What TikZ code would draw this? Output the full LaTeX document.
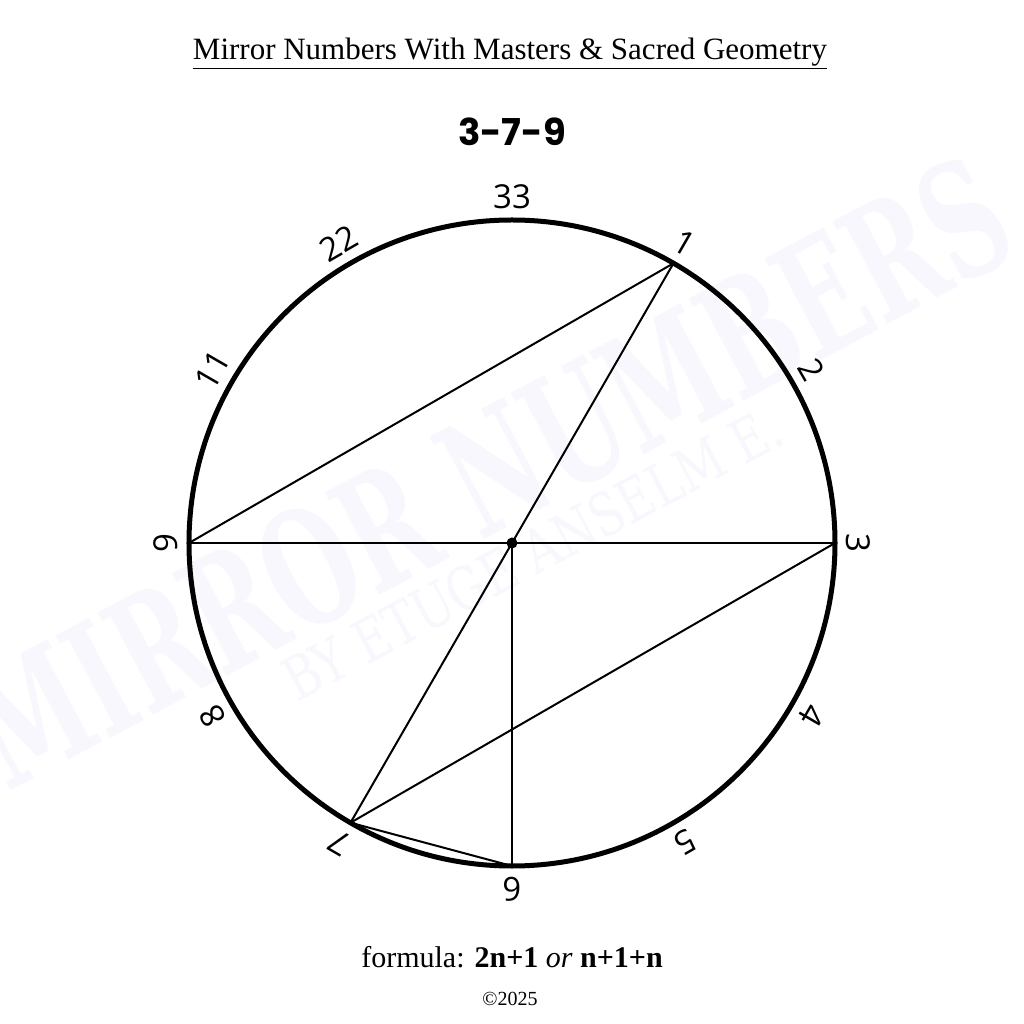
\documentclass[tikz,border=0pt]{standalone}
\usepackage{fontspec}
\usepackage{graphicx}
\setmainfont{Liberation Serif}
\newfontfamily\titlefont{Liberation Serif}
\newfontfamily\headfont{Poppins}
\newfontfamily\labfont{Open Sans}
\newfontfamily\wmfont{DejaVu Serif}
\definecolor{wmcol}{RGB}{247,247,253}
\begin{document}
\begin{tikzpicture}[x=1pt,y=1pt,
  rim/.style={line width=5pt},
  chord/.style={line width=2pt},
  lab/.style={font=\labfont\fontsize{33}{33}\selectfont, inner sep=0pt},
  wmtext/.style={text=wmcol, inner sep=0pt, anchor=base west, rotate=28},
]
\useasboundingbox (-512,-481) rectangle (512,543);
\fill[white] (-512,-481) rectangle (512,543);
% watermark
\node[wmtext] (wm1) at (-505,-250) {\resizebox{1150pt}{118pt}{\wmfont\bfseries MIRROR NUMBERS}};
\node[wmtext] (wm2) at (-215,-160) {\resizebox{555pt}{44pt}{\wmfont BY ETUGE ANSELM E.}};
% titles
\node[anchor=base, inner sep=0pt] (title) at (-2,483) {\titlefont\fontsize{31}{31}\selectfont\underline{Mirror Numbers With Masters \& Sacred Geometry}};
\node[anchor=base, inner sep=0pt] (head) at (0,397) {\headfont\bfseries\fontsize{37}{37}\selectfont 3-7-9};
% circle
\coordinate (O) at (0,0);
\coordinate (P1) at (60:323);
\coordinate (P3) at (0:323);
\coordinate (P9) at (180:323);
\coordinate (P6) at (270:323);
\coordinate (P7) at (240:323);
\draw[chord] (P9) -- (P1);
\draw[chord] (P9) -- (P3);
\draw[chord] (P1) -- (P7);
\draw[chord] (O) -- (P6);
\draw[chord] (P3) -- (P7);
\draw[chord] (P7) -- (P6);
\draw[rim] (O) circle (323);
\fill (O) circle (5.5);
\foreach \a/\t in {90/33,120/22,150/11,180/9,210/8,240/7,270/6,300/5,330/4,0/3,30/2,60/1}
  \node[lab, rotate=\a-90] (L\t) at (\a:346) {\t};
% footer
\node[anchor=base, inner sep=0pt] (formula) at (0,-424) {\fontsize{30}{30}\selectfont formula: \textbf{2n+1} \textit{or} \textbf{n+1+n}};
\node[anchor=base, inner sep=0pt] (copy) at (-2,-462) {\fontsize{20}{20}\selectfont ©2025};
\end{tikzpicture}
\end{document}
